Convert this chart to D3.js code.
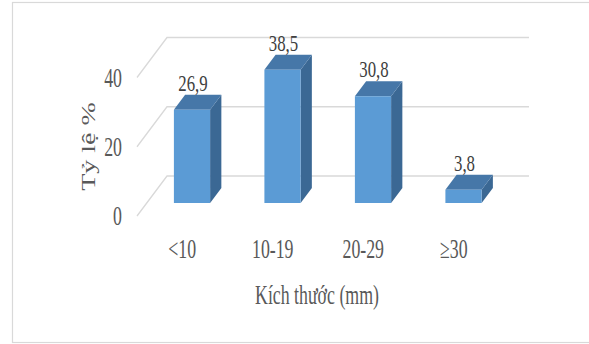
<!DOCTYPE html>
<html><head><meta charset="utf-8">
<script src="https://cdn.jsdelivr.net/npm/d3@7"></script>
<style>body{margin:0;background:#fff}svg{display:block}</style></head><body>
<script>
const categories = ["<10", "10-19", "20-29", "≥30"];
const values = [26.9, 38.5, 30.8, 3.8];
const valueLabels = ["26,9", "38,5", "30,8", "3,8"];
const yTicks = [0, 20, 40];
const yTitle = "Tỷ lệ %";
const xTitle = "Kích thước (mm)";

const W = 589, H = 344;
const FONT = "'Liberation Serif','Times New Roman',serif";
const SX = 0.66;
const svg = d3.select("body").append("svg").attr("width", W).attr("height", H);

svg.append("rect").attr("x", 12.5).attr("y", 2.5).attr("width", 600).attr("height", 340)
  .attr("fill", "#fff").attr("stroke", "#d9d9d9").attr("stroke-width", 1.2);

const x = d3.scaleBand().domain(categories).range([137, 499]).paddingInner(0.6).paddingOuter(0.3);
const y = d3.scaleLinear().domain([0, 40]).range([216, 77.5]);
const DX = 30, DY = -40;
const dA = 0.325, dB = 0.7;
const P = (px, py, d) => [px + DX * d, py + DY * d];

// gridlines (left wall + back wall)
const [x0r, x1r] = x.range();
svg.append("g").selectAll("path").data(yTicks).join("path")
  .attr("d", t => d3.line()([P(x0r, y(t), 0), P(x0r, y(t), 1), P(x1r, y(t), 1)]))
  .attr("fill", "none").attr("stroke", "#d9d9d9").attr("stroke-width", 1.3);

function sqText(g, px, py, s, size, anchor, color, sx) {
  return g.append("text").attr("transform", `translate(${px},${py}) scale(${sx || SX},1)`)
    .attr("text-anchor", anchor).attr("font-family", FONT).attr("font-size", size)
    .attr("fill", color).text(s);
}

// y tick labels
const gy = svg.append("g");
yTicks.forEach(t => sqText(gy, 122, y(t) + 9, String(t), 27, "end", "#595959"));

// bars
const w = x.bandwidth();
const gb = svg.append("g");
categories.forEach((c, i) => {
  const v = values[i];
  const xl = x(c), xr = x(c) + w;
  const yt = y(v), yb = y(0);
  const fTL = P(xl, yt, dA), fTR = P(xr, yt, dA), fBR = P(xr, yb, dA), fBL = P(xl, yb, dA);
  const bTL = P(xl, yt, dB), bTR = P(xr, yt, dB), bBR = P(xr, yb, dB);
  gb.append("path").attr("d", d3.line()([fTR, bTR, bBR, fBR]) + "Z").attr("fill", "#3B6894");
  gb.append("path").attr("d", d3.line()([fTL, fTR, bTR, bTL]) + "Z").attr("fill", "#4677A8");
  gb.append("path").attr("d", d3.line()([fTL, fTR, fBR, fBL]) + "Z").attr("fill", "#5B9BD5");
  const lc = P(xl + w / 2, yt, dA)[0] + 1;
  const lb = P(xl, yt, dB)[1] - 4;
  sqText(gb, lc, lb, valueLabels[i], 24, "middle", "#404040", 0.7);
});

// category labels
const gx = svg.append("g");
categories.forEach(c => sqText(gx, x(c) + w / 2, 258, c, 27, "middle", "#595959"));

// axis titles
sqText(svg, 317, 304, xTitle, 27, "middle", "#595959");
svg.append("text").attr("transform", `translate(95,146.5) scale(${SX},1) rotate(-90)`)
  .attr("text-anchor", "middle").attr("font-family", FONT).attr("font-size", 28)
  .attr("fill", "#595959").text(yTitle);
</script>
</body></html>
